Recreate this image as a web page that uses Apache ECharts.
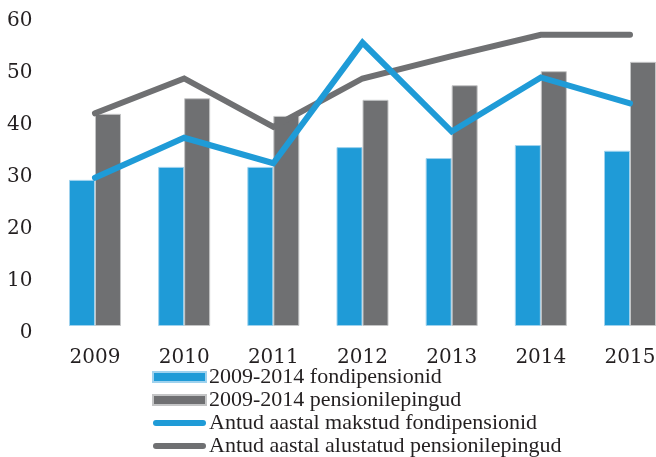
<!DOCTYPE html>
<html>
<head>
<meta charset="utf-8">
<script src="https://cdn.jsdelivr.net/npm/echarts@6/dist/echarts.min.js"></script>
<style>
  html, body { margin: 0; padding: 0; background: #ffffff; }
  #chart { width: 656px; height: 457px; }
</style>
</head>
<body>
<div id="chart"></div>
<script>
// Years on the category axis
const years = ['2009', '2010', '2011', '2012', '2013', '2014', '2015'];

// Bars: 2009-2014 averages
const fondipensionidBars = [28.1, 30.6, 30.6, 34.4, 32.3, 34.8, 33.7];
const pensionilepingudBars = [40.8, 43.8, 40.4, 43.5, 46.3, 49.0, 50.8];

// Lines: values for the given year
const makstudFondipensionid = [28.5, 36.2, 31.3, 54.5, 37.4, 47.8, 42.8];
const alustatudPensionilepingud = [40.9, 47.6, 38.3, 47.6, 51.9, 56.0, 56.0];

// Value-axis ticks
const yTicks = [0, 10, 20, 30, 40, 50, 60];

// Series names shown in the legend
const names = [
  '2009-2014 fondipensionid',
  '2009-2014 pensionilepingud',
  'Antud aastal makstud fondipensionid',
  'Antud aastal alustatud pensionilepingud'
];

const BLUE = '#1f9bd7';
const GREY = '#6f7072';
const TEXT = '#231f20';
const lineIcon = 'path://M3,0 H50 A3,3 0 0 1 50,6 H3 A3,3 0 0 1 3,0 Z';

const chart = echarts.init(document.getElementById('chart'), null, { renderer: 'canvas' });

chart.setOption({
  animation: false,
  backgroundColor: '#ffffff',
  // plot area runs past the right edge, so the last bar is cut off
  grid: {
    left: 50.4, width: 624.2, top: 14, height: 312,
    containLabel: false,
    outerBoundsMode: 'none'
  },
  xAxis: {
    type: 'category',
    data: years,
    axisLine: { show: false },
    axisTick: { show: false },
    splitLine: { show: false },
    axisLabel: {
      margin: 22,
      color: TEXT,
      fontFamily: 'DejaVu Serif',
      fontSize: 20
    }
  },
  yAxis: {
    type: 'value',
    min: yTicks[0],
    max: yTicks[yTicks.length - 1],
    interval: yTicks[1] - yTicks[0],
    axisLine: { show: false },
    axisTick: { show: false },
    splitLine: { show: false },
    axisLabel: {
      margin: 18,
      color: TEXT,
      fontFamily: 'DejaVu Serif',
      fontSize: 20,
      verticalAlign: 'top',
      lineHeight: 14
    }
  },
  legend: {
    orient: 'vertical',
    left: 152,
    top: 366,
    itemWidth: 53,
    itemHeight: 10,
    itemGap: 1,
    padding: 0,
    symbolKeepAspect: true,
    textStyle: {
      color: TEXT,
      fontFamily: 'Liberation Serif',
      fontSize: 22,
      lineHeight: 22,
      padding: [0, 0, 0, -2]
    },
    data: [
      { name: names[0], icon: 'rect' },
      { name: names[1], icon: 'rect' },
      { name: names[2], icon: lineIcon, itemStyle: { color: BLUE } },
      { name: names[3], icon: lineIcon, itemStyle: { color: GREY } }
    ]
  },
  series: [
    {
      name: names[0],
      type: 'bar',
      data: fondipensionidBars,
      barWidth: 26,
      barGap: '0%',
      itemStyle: { color: BLUE, borderColor: '#9fd2ee', borderWidth: 1 },
      z: 2
    },
    {
      name: names[1],
      type: 'bar',
      data: pensionilepingudBars,
      barWidth: 26,
      barGap: '0%',
      itemStyle: { color: GREY, borderColor: '#c4c5c6', borderWidth: 1 },
      z: 2
    },
    {
      name: names[3],
      type: 'line',
      data: alustatudPensionilepingud,
      symbol: 'none',
      smooth: false,
      lineStyle: { color: GREY, width: 6, cap: 'round', join: 'miter' },
      itemStyle: { color: GREY },
      z: 3
    },
    {
      name: names[2],
      type: 'line',
      data: makstudFondipensionid,
      symbol: 'none',
      smooth: false,
      lineStyle: { color: BLUE, width: 6, cap: 'round', join: 'miter' },
      itemStyle: { color: BLUE },
      z: 4
    }
  ]
});
</script>
</body>
</html>
